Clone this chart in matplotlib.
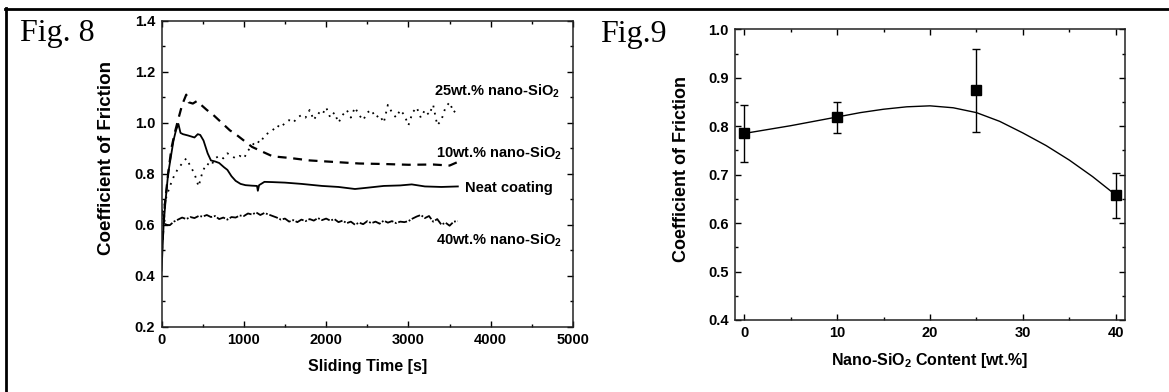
import matplotlib
matplotlib.use("Agg")
import matplotlib.pyplot as plt
from matplotlib.lines import Line2D
from matplotlib.ticker import MultipleLocator

plt.rcParams['font.family'] = ['Liberation Sans', 'DejaVu Sans']
plt.rcParams['font.weight'] = 'bold'
plt.rcParams['mathtext.fontset'] = 'custom'
plt.rcParams['mathtext.rm'] = 'Liberation Sans:bold'
plt.rcParams['mathtext.bf'] = 'Liberation Sans:bold'

# ---- Fig. 8 data: coefficient of friction vs sliding time ----
t_grid = list(range(0, 3601, 50))

cof_40 = [0.66, 0.600, 0.598, 0.612, 0.620, 0.628, 0.622, 0.630, 0.626, 0.634,
          0.632, 0.638, 0.630, 0.634, 0.622, 0.628, 0.620, 0.630, 0.628, 0.636,
          0.634, 0.644, 0.640, 0.648, 0.638, 0.646, 0.640, 0.634, 0.628, 0.620,
          0.624, 0.612, 0.618, 0.610, 0.620, 0.614, 0.622, 0.616, 0.626, 0.618,
          0.624, 0.616, 0.622, 0.610, 0.616, 0.606, 0.612, 0.600, 0.608, 0.602,
          0.614, 0.606, 0.612, 0.604, 0.616, 0.608, 0.614, 0.606, 0.612, 0.610,
          0.614, 0.624, 0.632, 0.638, 0.626, 0.634, 0.612, 0.622, 0.600, 0.608,
          0.596, 0.612, 0.614]

cof_25 = [0.62, 0.70, 0.75, 0.79, 0.82, 0.84, 0.86, 0.83, 0.80, 0.75,
          0.81, 0.84, 0.83, 0.86, 0.87, 0.86, 0.88, 0.87, 0.86, 0.87,
          0.86, 0.89, 0.91, 0.93, 0.92, 0.95, 0.96, 0.97, 0.99, 0.98,
          1.00, 1.01, 1.00, 1.02, 1.03, 1.02, 1.05, 1.01, 1.04, 1.03,
          1.06, 1.02, 1.04, 1.00, 1.03, 1.05, 1.02, 1.06, 1.03, 1.01,
          1.04, 1.05, 1.02, 1.03, 1.00, 1.07, 1.04, 1.02, 1.05, 1.03,
          0.99, 1.04, 1.06, 1.02, 1.05, 1.03, 1.07, 0.99, 1.01, 1.06,
          1.08, 1.04, 1.06]

t_neat = [0, 25, 50, 80, 110, 145, 175, 205, 230, 260, 320, 400, 440, 470, 510,
          560, 600, 650, 700, 760, 800, 850, 900, 960, 1020, 1100, 1160, 1170,
          1185, 1250, 1350, 1500, 1700, 1950, 2150, 2350, 2500, 2700, 2900,
          3040, 3200, 3400, 3600]
cof_neat = [0.42, 0.60, 0.70, 0.80, 0.86, 0.93, 0.97, 0.995, 0.96, 0.955, 0.950,
            0.942, 0.955, 0.952, 0.930, 0.88, 0.852, 0.848, 0.842, 0.825, 0.815,
            0.790, 0.772, 0.760, 0.755, 0.753, 0.752, 0.733, 0.755, 0.768, 0.767,
            0.765, 0.760, 0.752, 0.748, 0.740, 0.745, 0.752, 0.754, 0.758, 0.750,
            0.748, 0.750]

t_10 = [0, 40, 80, 120, 160, 200, 250, 300, 330, 380, 430, 480, 550, 630, 730,
        830, 900, 1000, 1100, 1200, 1350, 1550, 1800, 2100, 2400, 2700, 3000,
        3300, 3500, 3600]
cof_10 = [0.48, 0.68, 0.80, 0.90, 0.96, 1.01, 1.07, 1.11, 1.08, 1.075, 1.085,
          1.07, 1.05, 1.03, 1.00, 0.97, 0.955, 0.93, 0.905, 0.89, 0.868, 0.862,
          0.852, 0.846, 0.840, 0.838, 0.835, 0.836, 0.832, 0.846]

# ---- Fig. 9 data: mean COF vs nano-SiO2 content ----
content = [0, 10, 25, 40]
cof_mean = [0.785, 0.818, 0.874, 0.657]
cof_err = [0.059, 0.032, 0.086, 0.046]

fit_x = [0, 2.5, 5, 7.5, 10, 12.5, 15, 17.5, 20, 22.5, 25, 27.5, 30, 32.5, 35, 37.5, 40]
fit_y = [0.785, 0.793, 0.801, 0.810, 0.819, 0.828, 0.835, 0.840, 0.842, 0.838,
         0.828, 0.810, 0.786, 0.760, 0.730, 0.696, 0.658]

fig = plt.figure(figsize=(11.69, 3.92), dpi=100)

def style_axes(ax):
    ax.tick_params(which='both', direction='in', top=True, right=True,
                   labelsize=10.5, width=1, pad=4.5)
    ax.tick_params(which='major', length=4)
    ax.tick_params(which='minor', length=2.5)
    for s in ax.spines.values():
        s.set_linewidth(1.1)
        s.set_color('#222222')

# left panel
ax1 = fig.add_axes([0.1382, 0.1666, 0.352, 0.7806])
ax1.plot(t_neat, cof_neat, color='black', lw=1.3, ls='-')
ax1.plot(t_10, cof_10, color='black', lw=1.6, dashes=(4, 3))
ax1.plot(t_grid, cof_25, color='black', lw=1.3, dashes=(1, 3))
ax1.plot(t_grid, cof_40, color='black', lw=1.3, dashes=(5, 1, 1, 1))
ax1.set_xlim(0, 5000)
ax1.set_ylim(0.2, 1.4)
ax1.xaxis.set_major_locator(MultipleLocator(1000))
ax1.xaxis.set_minor_locator(MultipleLocator(500))
ax1.yaxis.set_major_locator(MultipleLocator(0.2))
ax1.yaxis.set_minor_locator(MultipleLocator(0.1))
ax1.yaxis.set_major_formatter(plt.FormatStrFormatter('%.1f'))
style_axes(ax1)
ax1.set_xlabel('Sliding Time [s]', fontsize=11.5, fontweight='bold', labelpad=9)
ax1.set_ylabel('Coefficient of Friction', fontsize=13.5, fontweight='bold')
ax1.yaxis.set_label_coords(-0.113, 0.55)

lab_kw = dict(fontsize=10.5, fontweight='bold', va='center', ha='left')
ax1.text(3310, 1.125, r'25wt.% nano-SiO$_\mathbf{2}$', **lab_kw)
ax1.text(3330, 0.881, r'10wt.% nano-SiO$_\mathbf{2}$', **lab_kw)
ax1.text(3690, 0.744, 'Neat coating', **lab_kw)
ax1.text(3330, 0.540, r'40wt.% nano-SiO$_\mathbf{2}$', **lab_kw)

# right panel
ax2 = fig.add_axes([0.6287, 0.1837, 0.3337, 0.7416])
ax2.plot(fit_x, fit_y, color='black', lw=1)
ax2.errorbar(content, cof_mean, yerr=cof_err, fmt='s', color='black',
             ms=6.5, ecolor='black', elinewidth=1, capsize=3, capthick=1)
ax2.set_xlim(-1, 41)
ax2.set_ylim(0.4, 1.0)
ax2.xaxis.set_major_locator(MultipleLocator(10))
ax2.xaxis.set_minor_locator(MultipleLocator(5))
ax2.yaxis.set_major_locator(MultipleLocator(0.1))
ax2.yaxis.set_minor_locator(MultipleLocator(0.05))
ax2.yaxis.set_major_formatter(plt.FormatStrFormatter('%.1f'))
style_axes(ax2)
ax2.set_xlabel(r'Nano-SiO$_\mathbf{2}$ Content [wt.%]', fontsize=11.5,
               fontweight='bold', labelpad=8)
ax2.set_ylabel('Coefficient of Friction', fontsize=13, fontweight='bold')
ax2.yaxis.set_label_coords(-0.115, 0.52)

# panel titles
fig.text(0.0171, 0.896, 'Fig. 8', family='Liberation Serif', fontsize=23,
         fontweight='normal', va='baseline', ha='left')
fig.text(0.5133, 0.894, 'Fig.9', family='Liberation Serif', fontsize=23,
         fontweight='normal', va='baseline', ha='left')

# page frame (top and left rules)
W, H = 1169, 392
fig.add_artist(Line2D([5 / W, 1], [1 - 8.7 / H, 1 - 8.7 / H],
                      transform=fig.transFigure, color='black', lw=2))
fig.add_artist(Line2D([6.2 / W, 6.2 / W], [0, 1 - 7.5 / H],
                      transform=fig.transFigure, color='black', lw=2))

fig.savefig('out.png', dpi=100)
